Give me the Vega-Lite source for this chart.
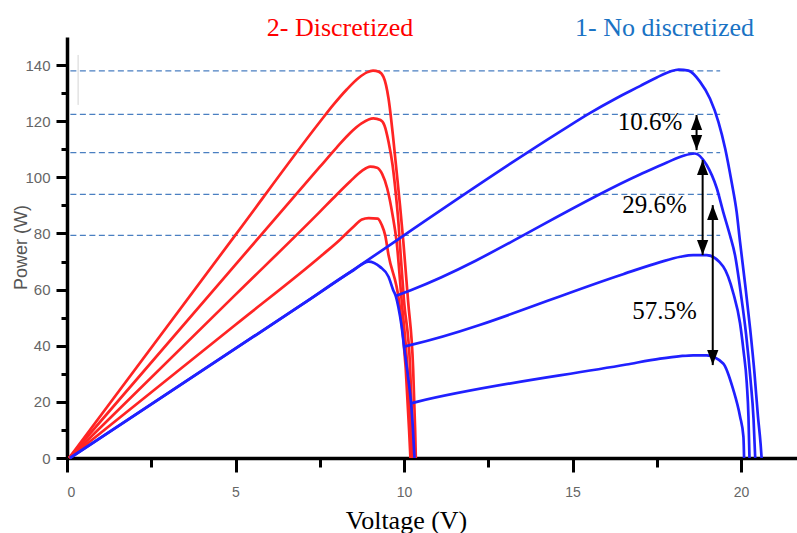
{
  "$schema": "https://vega.github.io/schema/vega-lite/v6.json",
  "width": 730,
  "height": 421,
  "autosize": {"type": "none"},
  "padding": {"left": 67, "top": 37, "right": 0, "bottom": 75},
  "background": "white",
  "config": {
    "view": {"stroke": null},
    "axis": {"grid": false, "domain": true, "domainColor": "black", "domainWidth": 3.5, "ticks": true, "tickColor": "black", "tickWidth": 3, "tickCap": "butt", "labelColor": "#666", "labelFont": "Liberation Sans"}
  },
  "datasets": {
    "red": [
      {"s":"R1","v":0.06,"p":0},{"s":"R1","v":5,"p":79.5},{"s":"R1","v":7.5,"p":119.7},{"s":"R1","v":7.9,"p":125.8},{"s":"R1","v":8.3,"p":131.3},{"s":"R1","v":8.65,"p":135.4},{"s":"R1","v":8.9,"p":137.4},{"s":"R1","v":9.08,"p":138},{"s":"R1","v":9.25,"p":137.6},{"s":"R1","v":9.39,"p":135.8},{"s":"R1","v":9.54,"p":128.1},{"s":"R1","v":9.68,"p":113.9},{"s":"R1","v":9.78,"p":102},{"s":"R1","v":9.88,"p":90.1},{"s":"R1","v":9.98,"p":77},{"s":"R1","v":10.12,"p":56},{"s":"R1","v":10.27,"p":32},{"s":"R1","v":10.33,"p":10},{"s":"R1","v":10.35,"p":0},
      {"s":"R2","v":0.06,"p":0},{"s":"R2","v":5,"p":68.9},{"s":"R2","v":7.5,"p":103.7},{"s":"R2","v":8.0,"p":110.6},{"s":"R2","v":8.4,"p":115.8},{"s":"R2","v":8.75,"p":119.3},{"s":"R2","v":9.09,"p":121},{"s":"R2","v":9.3,"p":120.4},{"s":"R2","v":9.42,"p":118.5},{"s":"R2","v":9.54,"p":112.7},{"s":"R2","v":9.66,"p":104.4},{"s":"R2","v":9.76,"p":93.7},{"s":"R2","v":9.84,"p":83},{"s":"R2","v":9.9,"p":72.3},{"s":"R2","v":10.0,"p":56},{"s":"R2","v":10.18,"p":32.5},{"s":"R2","v":10.25,"p":10},{"s":"R2","v":10.28,"p":0},
      {"s":"R3","v":0.07,"p":0},{"s":"R3","v":5,"p":58.2},{"s":"R3","v":7.5,"p":87.7},{"s":"R3","v":8.0,"p":93.8},{"s":"R3","v":8.4,"p":98.5},{"s":"R3","v":8.75,"p":102.3},{"s":"R3","v":9.0,"p":103.8},{"s":"R3","v":9.2,"p":103.4},{"s":"R3","v":9.35,"p":101.2},{"s":"R3","v":9.5,"p":96.1},{"s":"R3","v":9.66,"p":86.6},{"s":"R3","v":9.78,"p":77.1},{"s":"R3","v":9.93,"p":56},{"s":"R3","v":10.1,"p":32},{"s":"R3","v":10.19,"p":10},{"s":"R3","v":10.22,"p":0},
      {"s":"R4","v":0.07,"p":0},{"s":"R4","v":5,"p":47.5},{"s":"R4","v":7.6,"p":72.6},{"s":"R4","v":8.1,"p":77.8},{"s":"R4","v":8.5,"p":82.4},{"s":"R4","v":8.75,"p":85},{"s":"R4","v":8.95,"p":85.5},{"s":"R4","v":9.22,"p":85.3},{"s":"R4","v":9.34,"p":83},{"s":"R4","v":9.44,"p":79.4},{"s":"R4","v":9.54,"p":72.3},{"s":"R4","v":9.85,"p":56},{"s":"R4","v":10.05,"p":32},{"s":"R4","v":10.15,"p":10},{"s":"R4","v":10.19,"p":0}
    ],
    "blue": [
      {"s":"B1","v":0.09,"p":0},{"s":"B1","v":7,"p":54.9},{"s":"B1","v":14.63,"p":116.3},{"s":"B1","v":15.5,"p":122.8},{"s":"B1","v":16.3,"p":128.2},{"s":"B1","v":17.0,"p":132.5},{"s":"B1","v":17.5,"p":135.6},{"s":"B1","v":17.9,"p":137.7},{"s":"B1","v":18.15,"p":138.4},{"s":"B1","v":18.44,"p":138},{"s":"B1","v":18.78,"p":134.1},{"s":"B1","v":19.08,"p":128},{"s":"B1","v":19.33,"p":119.7},{"s":"B1","v":19.53,"p":110.2},{"s":"B1","v":19.72,"p":98.3},{"s":"B1","v":19.87,"p":87.6},{"s":"B1","v":19.97,"p":77},{"s":"B1","v":20.12,"p":62},{"s":"B1","v":20.27,"p":46},{"s":"B1","v":20.4,"p":30},{"s":"B1","v":20.5,"p":15},{"s":"B1","v":20.58,"p":5},{"s":"B1","v":20.61,"p":0},
      {"s":"B5","v":0.09,"p":0},{"s":"B5","v":7,"p":54.9},{"s":"B5","v":8.5,"p":66.9},{"s":"B5","v":8.95,"p":70},{"s":"B5","v":9.29,"p":68.1},{"s":"B5","v":9.54,"p":64.6},{"s":"B5","v":9.68,"p":59.8},{"s":"B5","v":9.76,"p":57.5},{"s":"B5","v":9.83,"p":53.9},{"s":"B5","v":9.93,"p":46.8},{"s":"B5","v":10.0,"p":39.7},{"s":"B5","v":10.08,"p":32.5},{"s":"B5","v":10.18,"p":23},{"s":"B5","v":10.21,"p":19.5},{"s":"B5","v":10.26,"p":11.2},{"s":"B5","v":10.31,"p":0},
      {"s":"B2","v":9.76,"p":57.8},{"s":"B2","v":10.2,"p":59.8},{"s":"B2","v":17.0,"p":101},{"s":"B2","v":17.8,"p":105.3},{"s":"B2","v":18.29,"p":107.7},{"s":"B2","v":18.63,"p":108.5},{"s":"B2","v":18.98,"p":104.4},{"s":"B2","v":19.28,"p":96.1},{"s":"B2","v":19.47,"p":87.7},{"s":"B2","v":19.67,"p":79.4},{"s":"B2","v":19.82,"p":72.3},{"s":"B2","v":20.0,"p":58},{"s":"B2","v":20.15,"p":44},{"s":"B2","v":20.28,"p":28},{"s":"B2","v":20.37,"p":14},{"s":"B2","v":20.42,"p":0},
      {"s":"B3","v":10.0,"p":39.7},{"s":"B3","v":10.18,"p":40.2},{"s":"B3","v":16.5,"p":65.5},{"s":"B3","v":17.6,"p":69.8},{"s":"B3","v":18.2,"p":71.7},{"s":"B3","v":18.58,"p":72.3},{"s":"B3","v":18.98,"p":72.3},{"s":"B3","v":19.47,"p":68.2},{"s":"B3","v":19.77,"p":58.7},{"s":"B3","v":19.97,"p":48},{"s":"B3","v":20.07,"p":38.5},{"s":"B3","v":20.17,"p":26.6},{"s":"B3","v":20.22,"p":14.7},{"s":"B3","v":20.25,"p":0},
      {"s":"B4","v":10.21,"p":19.5},{"s":"B4","v":10.38,"p":20},{"s":"B4","v":16.6,"p":33.3},{"s":"B4","v":17.6,"p":35.4},{"s":"B4","v":18.2,"p":36.3},{"s":"B4","v":18.58,"p":36.6},{"s":"B4","v":18.98,"p":36.6},{"s":"B4","v":19.47,"p":33.7},{"s":"B4","v":19.77,"p":24.3},{"s":"B4","v":19.97,"p":14.8},{"s":"B4","v":20.07,"p":7.6},{"s":"B4","v":20.09,"p":0}
    ],
    "dashed": [
      {"v":0.1,"v2":19.38,"p":137.9},{"v":0.1,"v2":19.38,"p":122.4},{"v":0.1,"v2":19.38,"p":108.8},{"v":0.1,"v2":19.38,"p":93.9},{"v":0.1,"v2":19.38,"p":79.3}
    ],
    "faint": [{"v":0.33,"p":143.6,"p2":125.8}],
    "arrows": [
      {"v":18.68,"p":122.2,"p2":109.7},{"v":18.86,"p":106.2,"p2":72.3},{"v":19.16,"p":90.1,"p2":33.1}
    ],
    "arrowBottoms": [
      {"v":18.68,"p":109.7},{"v":18.86,"p":72.3},{"v":19.16,"p":33.1}
    ],
    "pct": [
      {"v":17.3,"p":119.8,"label":"10.6%"},{"v":17.43,"p":90,"label":"29.6%"},{"v":17.73,"p":52.2,"label":"57.5%"}
    ],
    "titles": [
      {"v":8.1,"p":150.3,"label":"2- Discretized"},{"v":17.73,"p":150.3,"label":"1- No discretized"}
    ]
  },
  "encoding": {
    "x": {"field": "v", "type": "quantitative", "scale": {"domain": [0, 21.66], "nice": false, "zero": false},
      "axis": {
        "values": [0, 2.5, 5, 7.5, 10, 12.5, 15, 17.5, 20],
        "labelExpr": "datum.value % 5 === 0 ? datum.label : ''",
        "grid": false,
        "domain": true, "domainColor": "black", "domainWidth": 3.5,
        "ticks": true, "tickColor": "black", "tickWidth": 3,
        "tickSize": {"condition": {"test": "datum.value % 5 === 0", "value": 14}, "value": 9},
        "labelFont": "Liberation Sans", "labelFontSize": 14, "labelColor": "#666", "labelPadding": 13,
        "title": "Voltage (V)", "titleFont": "Liberation Serif", "titleFontSize": 26, "titleFontWeight": "normal",
        "titleColor": "black", "titleY": 70, "titleX": 339, "titleAlign": "center", "titleBaseline": "alphabetic"
      }},
    "y": {"field": "p", "type": "quantitative", "scale": {"domain": [0, 150], "nice": false, "zero": false},
      "axis": {
        "values": [0, 10, 20, 30, 40, 50, 60, 70, 80, 90, 100, 110, 120, 130, 140],
        "labelExpr": "datum.value % 20 === 0 ? datum.label : ''",
        "grid": false,
        "domain": true, "domainColor": "black", "domainWidth": 3.5,
        "ticks": true, "tickColor": "black", "tickWidth": 3,
        "tickSize": {"condition": {"test": "datum.value % 20 === 0", "value": 11}, "value": 6},
        "labelFont": "Liberation Sans", "labelFontSize": 15, "labelColor": "#666", "labelPadding": 6,
        "title": "Power (W)", "titleFont": "Liberation Sans", "titleFontSize": 18, "titleFontWeight": "normal",
        "titleColor": "#555", "titleX": -46, "titleY": 210, "titleAngle": 270, "titleAlign": "center", "titleBaseline": "middle"
      }}
  },
  "layer": [
    {
      "data": {"name": "dashed"},
      "mark": {"type": "rule", "color": "#4a7fc1", "strokeWidth": 1.2, "strokeDash": [6, 3.5]},
      "encoding": {"x2": {"field": "v2"}}
    },
    {
      "data": {"name": "faint"},
      "mark": {"type": "rule", "color": "#d4d4d4", "strokeWidth": 1},
      "encoding": {"y2": {"field": "p2"}}
    },
    {
      "data": {"name": "red"},
      "mark": {"type": "line", "color": "#ff2424", "strokeWidth": 2.7, "interpolate": "monotone"},
      "encoding": {"detail": {"field": "s", "type": "nominal"}}
    },
    {
      "data": {"name": "blue"},
      "mark": {"type": "line", "color": "#2020ff", "strokeWidth": 2.7, "interpolate": "monotone"},
      "encoding": {"detail": {"field": "s", "type": "nominal"}}
    },
    {
      "data": {"name": "arrows"},
      "mark": {"type": "rule", "color": "black", "strokeWidth": 2},
      "encoding": {"y2": {"field": "p2"}}
    },
    {
      "data": {"name": "arrows"},
      "mark": {"type": "point", "filled": true, "color": "black", "opacity": 1, "strokeWidth": 0, "size": 225, "shape": "M0,-1L-0.75,1L0.75,1Z", "yOffset": 7.5},
      "encoding": {}
    },
    {
      "data": {"name": "arrowBottoms"},
      "mark": {"type": "point", "filled": true, "color": "black", "opacity": 1, "strokeWidth": 0, "size": 225, "shape": "M0,1L-0.75,-1L0.75,-1Z", "yOffset": -7.5},
      "encoding": {}
    },
    {
      "data": {"name": "pct"},
      "mark": {"type": "text", "font": "Liberation Serif", "fontSize": 25, "color": "black", "align": "center", "baseline": "middle"},
      "encoding": {"text": {"field": "label"}}
    },
    {
      "data": {"name": "titles"},
      "mark": {"type": "text", "font": "Liberation Serif", "fontSize": 26, "align": "center", "baseline": "alphabetic"},
      "encoding": {
        "text": {"field": "label"},
        "color": {"field": "label", "type": "nominal", "scale": {"domain": ["2- Discretized", "1- No discretized"], "range": ["#ff0000", "#1a73c4"]}, "legend": null}
      }
    }
  ]
}
